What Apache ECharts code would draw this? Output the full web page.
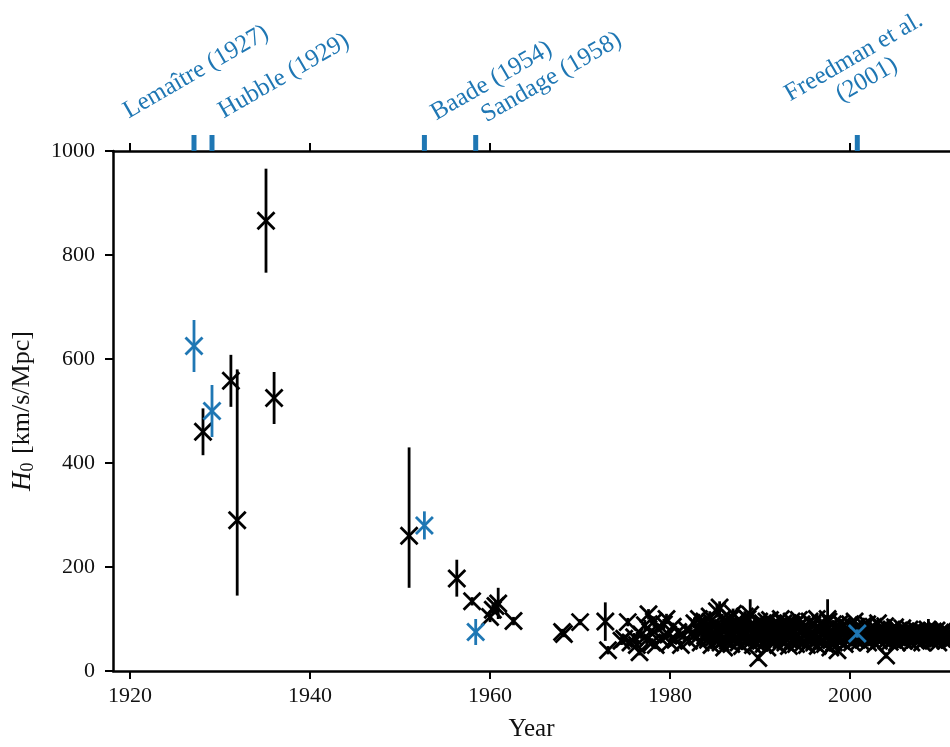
<!DOCTYPE html>
<html>
<head>
<meta charset="utf-8">
<script src="https://cdn.jsdelivr.net/npm/echarts@6/dist/echarts.min.js"></script>
<style>
html,body{margin:0;padding:0;background:#fff;}
#chart{width:950px;height:747px;}
</style>
</head>
<body>
<div id="chart"></div>
<script>
// ---- data: [year, H0, errLow, errHigh] ----
const black1920s = [[1928.1,460,45,45],[1931.2,558,50,50],[1931.9,290,145,290],[1935.1,866,100,100],[1936.0,525,50,50]];
const black1950s = [[1951.0,260,100,170],[1956.3,178,35,36],[1958.0,134,8,8],[1960.0,104,10,10],[1960.3,118,10,10],[1960.6,125,10,10],[1960.9,130,30,30],[1962.6,96,8,8]];
const black1970s = [
[1968.0,75,6,6],[1968.2,71,6,6],[1970.0,94,6,6],[1972.8,95,37,37],[1973.1,40,8,8],[1974.6,58,8,8],[1974.9,62,8,8],[1975.3,94,8,8],[1975.6,55,8,8],[1976.0,65,8,8],[1976.3,50,8,8],[1976.6,36,6,6],[1976.8,70,8,8],[1977.2,88,10,10],[1977.4,60,8,8],[1977.6,109,10,10],[1977.8,75,8,8],[1978.0,55,8,8],[1978.2,95,10,10],[1978.4,50,8,8],[1978.6,82,8,8],[1979.0,62,8,8],[1979.3,90,10,10],[1979.6,100,10,10],[1979.8,70,8,8]
];
const black1980s = [
[1980.0,55,8,8],[1980.3,85,8,8],[1980.6,60,8,8],[1980.9,75,8,8],[1981.2,50,8,8],[1981.5,68,8,8],[1981.8,80,8,8],[1982.1,58,8,8],[1982.4,72,8,8],[1982.7,92,10,10],
[1983.0,65,8,8],[1983.1,85,8,8],[1983.2,100,10,10],[1983.4,55,8,8],[1983.5,75,8,8],[1983.8,95,10,10],[1983.9,68,8,8],
[1984.2,60,8,8],[1984.3,80,8,8],[1984.4,105,10,10],[1984.6,50,8,8],[1984.7,72,8,8],[1984.8,90,8,8],
[1985.0,58,8,8],[1985.1,78,8,8],[1985.2,115,12,12],[1985.3,65,8,8],[1985.4,85,8,8],[1985.5,122,12,12],[1985.6,55,8,8],[1985.7,70,8,8],[1985.8,100,10,10],
[1986.0,45,8,8],[1986.1,62,8,8],[1986.2,80,8,8],[1986.3,95,10,10],[1986.4,58,8,8],[1986.5,75,8,8],[1986.6,88,8,8],[1986.8,52,8,8],[1986.9,68,8,8],[1987.0,110,10,10],
[1987.2,60,8,8],[1987.3,80,8,8],[1987.4,95,8,8],[1987.6,55,8,8],[1987.7,72,8,8],[1987.8,85,8,8],
[1988.0,48,8,8],[1988.1,65,8,8],[1988.2,90,8,8],[1988.3,105,10,10],[1988.4,58,8,8],[1988.5,75,8,8],[1988.6,100,8,8],[1988.8,62,8,8],[1988.9,108,30,30],[1989.0,80,8,8],
[1989.2,50,8,8],[1989.3,70,8,8],[1989.4,88,8,8],[1989.6,55,8,8],[1989.7,72,8,8],[1989.8,25,6,6],[1989.9,95,8,8]
];
const black1990s = [
[1990.1,60,8,8],[1990.2,78,8,8],[1990.3,92,8,8],[1990.4,52,8,8],[1990.5,70,8,8],[1990.6,85,8,8],[1990.8,45,8,8],[1990.9,65,8,8],[1991.0,80,8,8],[1991.1,98,8,8],
[1991.2,58,8,8],[1991.3,75,8,8],[1991.4,90,8,8],[1991.6,55,8,8],[1991.7,68,8,8],[1991.8,85,8,8],
[1992.0,50,8,8],[1992.1,72,8,8],[1992.2,88,8,8],[1992.3,100,8,8],[1992.4,60,8,8],[1992.5,78,8,8],[1992.6,92,8,8],[1992.8,55,8,8],[1992.9,70,8,8],[1993.0,85,8,8],
[1993.2,48,8,8],[1993.3,66,8,8],[1993.4,80,8,8],[1993.5,95,8,8],[1993.6,58,8,8],[1993.7,74,8,8],[1993.8,88,8,8],
[1994.0,52,8,8],[1994.1,68,8,8],[1994.2,84,8,8],[1994.3,98,8,8],[1994.4,60,8,8],[1994.5,76,8,8],[1994.6,90,8,8],[1994.8,55,8,8],[1994.9,70,8,8],[1995.0,85,8,8],
[1995.2,50,8,8],[1995.3,65,8,8],[1995.4,80,8,8],[1995.5,95,8,8],[1995.6,58,8,8],[1995.7,72,8,8],[1995.8,88,8,8],
[1996.0,55,8,8],[1996.1,68,8,8],[1996.2,82,8,8],[1996.3,100,8,8],[1996.4,48,8,8],[1996.5,62,8,8],[1996.6,78,8,8],[1996.7,92,8,8],[1996.8,58,8,8],[1996.9,72,8,8],[1997.0,86,8,8],
[1997.2,52,8,8],[1997.3,66,8,8],[1997.4,80,8,8],[1997.5,100,38,38],[1997.6,95,8,8],[1997.8,45,8,8],[1997.9,60,8,8],[1998.0,75,8,8],[1998.1,90,8,8],
[1998.2,55,8,8],[1998.3,70,8,8],[1998.4,85,8,8],[1998.6,40,8,8],[1998.7,62,8,8],[1998.8,78,8,8],[1998.9,92,8,8],
[1999.0,58,8,8],[1999.1,72,8,8],[1999.2,88,8,8],[1999.4,52,8,8],[1999.5,66,8,8],[1999.6,80,8,8],[1999.8,60,8,8],[1999.9,74,8,8],[2000.0,90,8,8]
];
const black2000s = [
[2000.2,55,6,6],[2000.3,68,6,6],[2000.4,80,6,6],[2000.5,95,6,6],[2000.6,60,6,6],[2000.7,85,6,6],[2001.1,58,6,6],[2001.3,70,6,6],[2001.5,88,6,6],[2001.7,62,6,6],[2001.8,75,6,6],[2001.9,90,6,6],
[2002.0,55,6,6],[2002.1,68,6,6],[2002.2,80,6,6],[2002.4,60,6,6],[2002.5,72,6,6],[2002.6,85,6,6],[2002.8,52,6,6],[2002.9,65,6,6],[2003.0,78,6,6],[2003.1,92,6,6],
[2003.2,58,6,6],[2003.4,70,6,6],[2003.5,82,6,6],[2003.6,62,6,6],[2003.8,74,6,6],[2003.9,86,6,6],
[2004.0,30,6,6],[2004.1,60,6,6],[2004.2,72,6,6],[2004.4,56,6,6],[2004.5,68,6,6],[2004.6,80,6,6],[2004.8,60,6,6],[2004.9,72,6,6],[2005.0,84,6,6],
[2005.2,55,6,6],[2005.3,66,6,6],[2005.4,78,6,6],[2005.6,62,6,6],[2005.7,72,6,6],[2005.8,82,6,6],
[2006.0,58,6,6],[2006.1,68,6,6],[2006.2,76,6,6],[2006.4,60,6,6],[2006.5,70,6,6],[2006.6,80,6,6],[2006.8,55,6,6],[2006.9,65,6,6],[2007.0,75,6,6],
[2007.2,60,6,6],[2007.3,70,6,6],[2007.4,78,6,6],[2007.6,58,6,6],[2007.7,68,6,6],[2007.8,76,6,6],
[2008.0,55,6,6],[2008.1,66,6,6],[2008.2,74,6,6],[2008.4,62,6,6],[2008.5,72,6,6],[2008.6,80,6,6],[2008.7,75,25,25],
[2009.0,58,6,6],[2009.1,68,6,6],[2009.2,76,6,6],[2009.4,60,6,6],[2009.5,70,6,6],[2009.6,78,6,6],[2009.8,55,6,6],[2009.9,65,6,6],[2010.0,74,6,6],
[2010.2,62,6,6],[2010.3,70,6,6],[2010.4,78,6,6],[2010.6,58,6,6],[2010.7,68,6,6],[2011.0,60,6,6],[2011.1,70,6,6]
];
const blackFill = [
[1983.3,78,8,8],[1983.6,88,8,8],[1984.0,70,8,8],[1984.5,95,8,8],[1984.9,65,8,8],[1985.9,82,8,8],[1986.7,100,8,8],[1987.1,70,8,8],[1987.5,90,8,8],[1987.9,64,8,8],[1988.7,85,8,8],[1989.1,60,8,8],[1989.5,80,8,8],
[1990.0,70,8,8],[1990.7,95,8,8],[1991.5,62,8,8],[1991.9,78,8,8],[1992.7,65,8,8],[1993.1,92,8,8],[1993.9,62,8,8],[1994.7,82,8,8],[1995.1,72,8,8],[1995.9,66,8,8],[1996.25,60,8,8],[1997.1,75,8,8],[1997.7,70,8,8],[1998.5,65,8,8],[1999.3,78,8,8],[1999.7,68,8,8],
[2000.1,72,6,6],[2000.9,78,6,6],[2001.0,65,6,6],[2001.4,80,6,6],[2002.3,75,6,6],[2002.7,70,6,6],[2003.3,66,6,6],[2003.7,78,6,6],[2004.3,64,6,6],[2004.7,75,6,6],[2005.1,70,6,6],[2005.5,64,6,6],[2005.9,74,6,6],[2006.3,66,6,6],[2006.7,72,6,6],[2007.1,66,6,6],[2007.5,74,6,6],[2007.9,64,6,6],[2008.3,70,6,6],[2008.9,66,6,6],[2009.3,72,6,6],[2009.7,62,6,6],[2010.1,68,6,6],[2010.5,74,6,6],[2010.9,66,6,6]
];
const blueYear  = [1927.1, 1929.1, 1952.7, 1958.4, 2000.8];
const blueH0    = [625, 500, 280, 75, 72];
const blueErr   = [50, 50, 27, 25, 8];
const blueLabel = ['Lemaître (1927)', 'Hubble (1929)', 'Baade (1954)', 'Sandage (1958)', 'Freedman et al.\n(2001)'];
const xTickValues   = [1920, 1940, 1960, 1980, 2000];
const xTopTickValues = [1920, 1940, 1960, 2000];
const yTicks = {min: 0, max: 1000, interval: 200};
const xRange = {min: 1918.1, max: 2011.1};

// ---- style ----
const BLUE = '#1f77b4';
const FONT = "'Liberation Serif', 'DejaVu Serif', serif";
const labelPlacement = [
  {dx: -62, dy: -27, align: 'left'},
  {dx: 15, dy: -27, align: 'left'},
  {dx: 15, dy: -25, align: 'left'},
  {dx: 14, dy: -23, align: 'left'},
  {dx: 16, dy: -60, align: 'center'}
];

const blackData = [].concat(black1920s, black1950s, black1970s, black1980s, black1990s, blackFill, black2000s);
const blueData = blueYear.map((y, i) => [y, blueH0[i], blueErr[i], blueErr[i]]);
const annotData = blueYear.map((y, i) => [y, 1000, i]);

function errRenderer(color) {
  return function (params, api) {
    const x = api.value(0), y = api.value(1), lo = api.value(2), hi = api.value(3);
    const c = api.coord([x, y]);
    const t = api.coord([x, y + hi]);
    const b = api.coord([x, y - lo]);
    const s = 8.5;
    const st = {stroke: color, lineWidth: 2.8, fill: null};
    return {type: 'group', children: [
      {type: 'line', shape: {x1: c[0], y1: t[1], x2: c[0], y2: b[1]}, style: st},
      {type: 'line', shape: {x1: c[0] - s, y1: c[1] - s, x2: c[0] + s, y2: c[1] + s}, style: st},
      {type: 'line', shape: {x1: c[0] - s, y1: c[1] + s, x2: c[0] + s, y2: c[1] - s}, style: st}
    ]};
  };
}

function annotRenderer(params, api) {
  const idx = api.value(2);
  const c = api.coord([api.value(0), api.value(1)]);
  const p = labelPlacement[idx];
  return {type: 'group', children: [
    {type: 'rect', shape: {x: c[0] - 2.5, y: c[1] - 16, width: 5, height: 16}, style: {fill: BLUE}},
    {type: 'text', x: c[0] + p.dx, y: c[1] + p.dy, rotation: Math.PI / 6,
      style: {text: blueLabel[idx], fill: BLUE, font: '25px ' + FONT, align: p.align, verticalAlign: 'bottom', lineHeight: 26}}
  ]};
}

const chart = echarts.init(document.getElementById('chart'), null, {renderer: 'canvas'});
const axisLineStyle = {color: '#000', width: 2.5};
chart.setOption({
  animation: false,
  backgroundColor: '#fff',
  grid: {left: 113, top: 151, right: 0, height: 521, containLabel: false},
  xAxis: [
    {
      type: 'value', position: 'bottom', min: xRange.min, max: xRange.max,
      axisLine: {show: true, onZero: false, lineStyle: axisLineStyle},
      axisTick: {show: true, length: 8, lineStyle: {color: '#000', width: 2}, customValues: xTickValues},
      axisLabel: {show: true, margin: 14, color: '#111', fontFamily: FONT, fontSize: 22, customValues: xTickValues, formatter: v => String(v)},
      splitLine: {show: false},
      name: 'Year', nameLocation: 'middle', nameGap: 46,
      nameTextStyle: {color: '#111', fontFamily: FONT, fontSize: 25}
    },
    {
      type: 'value', position: 'top', min: xRange.min, max: xRange.max,
      axisLine: {show: true, onZero: false, lineStyle: axisLineStyle},
      axisTick: {show: true, length: 8, lineStyle: {color: '#000', width: 2}, customValues: xTopTickValues},
      axisLabel: {show: false},
      splitLine: {show: false}
    }
  ],
  yAxis: {
    type: 'value', min: yTicks.min, max: yTicks.max, interval: yTicks.interval,
    axisLine: {show: true, onZero: false, lineStyle: axisLineStyle},
    axisTick: {show: true, length: 8, lineStyle: {color: '#000', width: 2}},
    axisLabel: {margin: 18, color: '#111', fontFamily: FONT, fontSize: 22, formatter: v => String(v)},
    splitLine: {show: false},
    name: '{h|H}{s|0} [km/s/Mpc]', nameLocation: 'middle', nameGap: 76, nameRotate: 90,
    nameTextStyle: {
      color: '#111', fontFamily: FONT, fontSize: 26,
      rich: {
        h: {fontStyle: 'italic', fontFamily: FONT, fontSize: 27, color: '#111'},
        s: {fontFamily: FONT, fontSize: 18, color: '#111', padding: [11, 2, 0, 0]}
      }
    }
  },
  series: [
    {type: 'custom', name: 'black', xAxisIndex: 0, yAxisIndex: 0, data: blackData, encode: {x: 0, y: 1}, renderItem: errRenderer('#000'), z: 2},
    {type: 'custom', name: 'blue', xAxisIndex: 0, yAxisIndex: 0, data: blueData, encode: {x: 0, y: 1}, renderItem: errRenderer(BLUE), z: 3},
    {type: 'custom', name: 'annotations', xAxisIndex: 1, yAxisIndex: 0, data: annotData, encode: {x: 0, y: 1}, renderItem: annotRenderer, z: 4, clip: false}
  ]
});
</script>
</body>
</html>
